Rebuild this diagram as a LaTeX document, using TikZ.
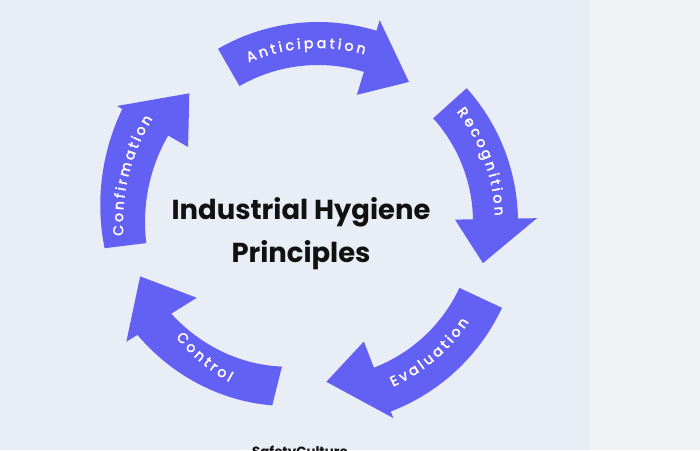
\documentclass[tikz,border=0pt]{standalone}
\usepackage{fontspec}
\setmainfont{Poppins}
\newfontfamily\labelfont{Poppins}[FakeBold=2.5]
\usetikzlibrary{decorations.text}
\definecolor{panelbg}{HTML}{E8EDF6}
\definecolor{pagebg}{HTML}{F1F2F4}
\definecolor{cyclepurple}{HTML}{6360F4}
\definecolor{titleink}{HTML}{111111}

\begin{document}
\begin{tikzpicture}[
        x=0.025cm, y=0.025cm,
        cyclearrow/.style={fill=cyclepurple, draw=none},
        steplabel/.style={decorate, decoration={text along path, text align={fit to path}, text color=white}},
        title/.style={font=\bfseries\fontsize{19.5pt}{30.6pt}\selectfont, text=titleink, align=center},
        logo/.style={font=\bfseries\fontsize{9.5pt}{11pt}\selectfont, text=titleink}
    ]
    % Page and panel background
    \clip (0,0) rectangle (700,450);
    \fill[pagebg] (0,0) rectangle (700,450);
    \fill[panelbg] (0,0) rectangle (590,450);

    % Title in the middle of the cycle
    \node[title] (Title) at (301,216) {Industrial Hygiene\\Principles};

    % Logo, cut by the lower edge
    \node[logo, anchor=base] (Logo) at (300,-6) {SafetyCulture};

    % Arrows of the cycle (polar coordinates around the ring centre)
    \begin{scope}[shift={(318,228)}]
        % Anticipation
        \fill[cyclearrow] plot[domain=120:73, samples=30, variable=\a] (\a:200)
            -- (73:211) -- (57:167) -- (73:133)
            -- plot[domain=73:120, samples=30, variable=\a] (\a:157) -- cycle;
        % Recognition
        \fill[cyclearrow] plot[domain=42:1, samples=30, variable=\a] (\a:200)
            -- (1:219) -- (-14:170) -- (1:137)
            -- plot[domain=1:42, samples=30, variable=\a] (\a:155) -- cycle;
        % Evaluation
        \fill[cyclearrow] plot[domain=-25:-69, samples=30, variable=\a] (\a:203)
            -- (-69:210) -- (-87:160) -- (-69:128)
            -- plot[domain=-69:-25, samples=30, variable=\a] (\a:156) -- cycle;
        % Control
        \fill[cyclearrow] plot[domain=256:212, samples=30, variable=\a] (\a:{189+(256-\a)*0.545})
            -- (212:226) -- (197:186) -- (212:143)
            -- plot[domain=212:256, samples=30, variable=\a] (\a:{149+(256-\a)*0.545}) -- cycle;
        % Confirmation
        \fill[cyclearrow] plot[domain=187:150, samples=30, variable=\a] (\a:{215+(187-\a)*0.297})
            -- (150:232) -- (135:182) -- (150:150)
            -- plot[domain=150:187, samples=30, variable=\a] (\a:173) -- cycle;

        % Labels along the arrows
        \path[steplabel, decoration={text={|\labelfont\fontsize{10pt}{12pt}\selectfont|Anticipation}}]
            (113.5:174) arc[start angle=113.5, end angle=74.5, radius=174];
        \path[steplabel, decoration={text={|\labelfont\fontsize{10pt}{12pt}\selectfont|Recognition}}]
            (38.5:177) arc[start angle=38.5, end angle=2, radius=177];
        \path[steplabel, decoration={text={|\labelfont\fontsize{10pt}{12pt}\selectfont|Evaluation}}]
            (-65.5:181) arc[start angle=-65.5, end angle=-33.5, radius=181];
        \path[steplabel, decoration={text={|\labelfont\fontsize{10pt}{12pt}\selectfont|Control}}]
            (219:183) arc[start angle=219, end angle=241, radius=183];
        \path[steplabel, decoration={text={|\labelfont\fontsize{10pt}{12pt}\selectfont|Confirmation}}]
            (184:195) arc[start angle=184, end angle=148, radius=195];
    \end{scope}
\end{tikzpicture}
\end{document}
